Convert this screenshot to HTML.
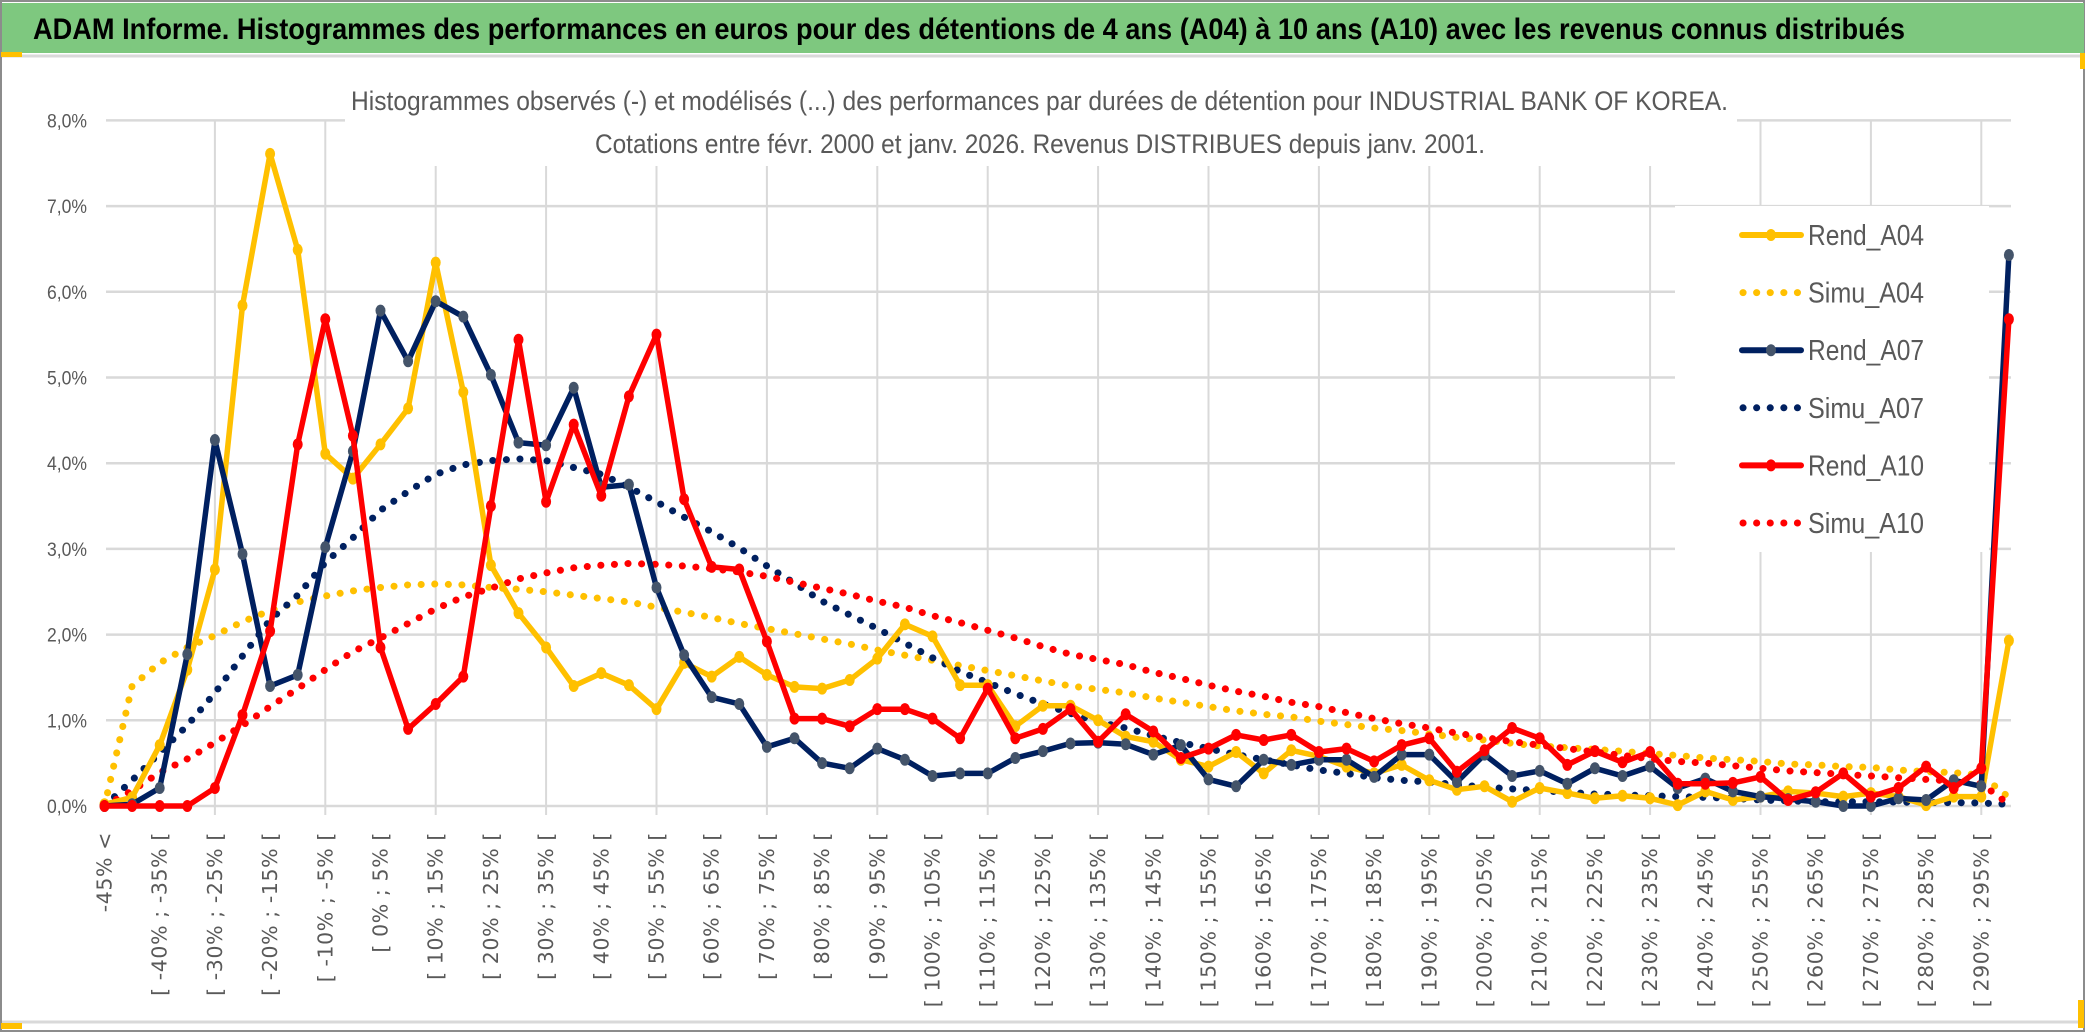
<!DOCTYPE html>
<html><head><meta charset="utf-8">
<style>
html,body{margin:0;padding:0;background:#fff;}
body{width:2086px;height:1033px;overflow:hidden;position:relative;}
svg{position:absolute;left:0;top:0;}
</style></head>
<body>
<svg id="chart" width="2086" height="1033" viewBox="0 0 2086 1033" xmlns="http://www.w3.org/2000/svg">
  <rect x="0" y="0" width="2086" height="1033" fill="#ffffff"/>
  <rect x="1" y="1" width="2083" height="1030" fill="none" stroke="#8c8c8c" stroke-width="2"/>
  <rect x="2" y="3" width="2082" height="50" fill="#7ec87f"/>
  <line x1="2" y1="56" x2="2084" y2="56" stroke="#d9d9d9" stroke-width="3"/>
  <rect x="1" y="52" width="21" height="5" fill="#ffc000"/>
  <rect x="2080" y="53" width="5" height="16" fill="#ffc000"/>
  <line x1="2" y1="1022" x2="2084" y2="1022" stroke="#d9d9d9" stroke-width="3"/>
  <rect x="1" y="1023" width="21" height="6" fill="#ffc000"/>
  <rect x="2078" y="1000" width="6" height="28" fill="#ffc000"/>
  <text x="33" y="39" textLength="1872" lengthAdjust="spacingAndGlyphs" font-family="Liberation Sans, sans-serif" font-weight="bold" font-size="30" fill="#000">ADAM Informe. Histogrammes des performances en euros pour des détentions de 4 ans (A04) à 10 ans (A10) avec les revenus connus distribués</text>
  <g id="grid"></g>
  <rect x="345" y="60" width="1392" height="106" fill="#ffffff"/>
  <text x="351" y="110" textLength="1377" lengthAdjust="spacingAndGlyphs" font-family="Liberation Sans, sans-serif" font-size="27" fill="#595959">Histogrammes observés (-) et modélisés (...) des performances par durées de détention pour INDUSTRIAL BANK OF KOREA.</text>
  <text x="595" y="153" textLength="890" lengthAdjust="spacingAndGlyphs" font-family="Liberation Sans, sans-serif" font-size="27" fill="#595959">Cotations entre févr. 2000 et janv. 2026. Revenus DISTRIBUES depuis janv. 2001.</text>
  <rect x="1675" y="206" width="314" height="346" fill="#ffffff"/>
  <g id="axes"></g>
  <g id="series"></g>
  <g id="legend"></g>
</svg>
<script>
const yTicks = [0,1,2,3,4,5,6,7,8];
const yTickLabels = ["0,0%","1,0%","2,0%","3,0%","4,0%","5,0%","6,0%","7,0%","8,0%"];
const categories = ["-45% <"];
for (let k = 1; k < 70; k++) { const lo = -50 + 5*k; categories.push("[ " + lo + "% ; " + (lo+5) + "% ["); }
const rendA04 = [0.02,0.10,0.71,1.59,2.76,5.84,7.61,6.49,4.11,3.82,4.22,4.64,6.34,4.83,2.81,2.25,1.85,1.40,1.55,
 1.41,1.13,1.67,1.51,1.74,1.53,1.39,1.37,1.47,1.72,2.12,1.98,1.41,1.41,0.93,1.17,1.17,1.00,
 0.81,0.75,0.54,0.46,0.63,0.38,0.65,0.58,0.46,0.38,0.48,0.30,0.19,0.23,0.05,0.21,0.15,0.09,0.12,
 0.09,0.01,0.17,0.07,0.11,0.17,0.15,0.11,0.15,0.11,0.01,0.11,0.11,1.93];
const simuA04 = [0.00,1.40,1.67,1.85,1.99,2.15,2.28,2.38,2.45,2.51,2.55,2.58,2.59,2.58,2.55,2.53,2.50,2.46,2.42,
 2.38,2.32,2.26,2.20,2.13,2.07,2.01,1.95,1.89,1.82,1.76,1.70,1.64,1.58,1.52,1.46,1.40,1.36,
 1.32,1.26,1.21,1.16,1.11,1.07,1.04,0.99,0.95,0.91,0.88,0.84,0.80,0.77,0.73,0.70,0.68,0.66,0.64,
 0.61,0.59,0.56,0.54,0.52,0.49,0.48,0.46,0.45,0.42,0.40,0.39,0.36,0.10];
const rendA07 = [0.00,0.02,0.21,1.77,4.27,2.94,1.40,1.53,3.02,4.14,5.78,5.19,5.89,5.71,5.03,4.24,4.21,4.88,3.72,
 3.75,2.55,1.76,1.27,1.19,0.69,0.79,0.50,0.44,0.67,0.54,0.35,0.38,0.38,0.56,0.64,0.73,0.74,
 0.72,0.60,0.71,0.31,0.23,0.54,0.48,0.54,0.54,0.34,0.60,0.60,0.28,0.60,0.35,0.41,0.26,0.44,0.35,
 0.46,0.21,0.32,0.17,0.11,0.08,0.05,0.00,0.00,0.09,0.07,0.30,0.23,6.43];
const simuA07 = [0.00,0.30,0.62,0.94,1.32,1.75,2.17,2.46,2.84,3.13,3.45,3.67,3.87,3.98,4.03,4.05,4.03,3.95,3.87,
 3.72,3.55,3.37,3.20,3.01,2.80,2.60,2.39,2.23,2.07,1.90,1.73,1.57,1.44,1.31,1.19,1.08,0.98,
 0.91,0.82,0.74,0.67,0.60,0.54,0.48,0.42,0.38,0.33,0.30,0.28,0.25,0.22,0.20,0.18,0.16,0.14,0.13,
 0.12,0.11,0.10,0.09,0.07,0.06,0.05,0.05,0.05,0.045,0.04,0.04,0.035,0.02];
const rendA10 = [0,0,0,0,0.21,1.06,2.04,4.22,5.68,4.32,1.85,0.90,1.19,1.51,3.50,5.44,3.55,4.45,3.62,
 4.78,5.50,3.58,2.79,2.76,1.92,1.02,1.02,0.93,1.13,1.13,1.02,0.79,1.37,0.79,0.90,1.13,0.75,
 1.07,0.87,0.56,0.67,0.83,0.77,0.83,0.63,0.67,0.52,0.71,0.79,0.40,0.65,0.91,0.79,0.48,0.64,0.51,
 0.63,0.26,0.26,0.27,0.34,0.07,0.16,0.38,0.11,0.21,0.46,0.21,0.44,5.68];
const simuA10 = [0.00,0.18,0.39,0.55,0.74,0.94,1.16,1.37,1.59,1.80,1.96,2.13,2.30,2.44,2.54,2.65,2.72,2.78,2.81,
 2.83,2.82,2.80,2.77,2.73,2.68,2.61,2.54,2.47,2.39,2.32,2.22,2.14,2.05,1.96,1.86,1.77,1.71,
 1.65,1.56,1.49,1.41,1.34,1.28,1.21,1.16,1.09,1.02,0.96,0.91,0.85,0.80,0.75,0.71,0.67,0.63,0.59,
 0.55,0.52,0.50,0.47,0.44,0.41,0.39,0.37,0.35,0.33,0.31,0.29,0.26,0.02];
const seriesNames = ["Rend_A04","Simu_A04","Rend_A07","Simu_A07","Rend_A10","Simu_A10"];

const NS = "http://www.w3.org/2000/svg";
const X0 = 104.5, DX = 27.6, Y0 = 806, DY = 85.7;
function xScale(i){ return X0 + DX*i; }
function yScale(v){ return Y0 - DY*v; }
function mk(tag, attrs, parent){ const e = document.createElementNS(NS, tag); for (const k in attrs) e.setAttribute(k, attrs[k]); parent.appendChild(e); return e; }

const grid = document.getElementById('grid');
yTicks.forEach((t) => {
  const l = mk('line', {x1:106, x2:2011, y1:yScale(t), y2:yScale(t), stroke:'#d9d9d9', 'stroke-width':2.5}, grid);
  
  
});
for (let k = 4; k < categories.length; k += 4) {
  const l = mk('line', {x1:xScale(k), x2:xScale(k), y1:yScale(8), y2:Y0+9, stroke:'#d9d9d9', 'stroke-width':2}, grid);
  
  
}

const axes = document.getElementById('axes');
yTicks.forEach((t, i) => {
  const tx = mk('text', {x:87, y:yScale(t)+7, 'text-anchor':'end', 'font-family':'Liberation Sans, sans-serif', 'font-size':19, fill:'#595959', textLength:40, lengthAdjust:'spacingAndGlyphs'}, axes);
  tx.textContent = yTickLabels[i];
  
  
});
for (let k = 0; k < categories.length; k += 2) {
  const x = xScale(k) + 7, y = 832;
  const tx = mk('text', {x:x, y:y, transform:'rotate(-90 '+x+' '+y+')', 'text-anchor':'end', 'font-family':'DejaVu Sans, sans-serif', 'font-size':20.5, fill:'#595959', 'letter-spacing':'0.6'}, axes);
  tx.textContent = categories[k];
  
  
}

const sg = document.getElementById('series');
function pathD(vals){ return vals.map((v,i)=> (i?'L':'M') + xScale(i).toFixed(1) + ' ' + yScale(v).toFixed(1)).join(' '); }
function dotted(vals, color, name){
  const p = mk('path', {d:pathD(vals), fill:'none', stroke:color, 'stroke-width':7, 'stroke-linecap':'round', 'stroke-dasharray':'0.1 13.5'}, sg);
  
  
}
function solid(vals, color, mcolor, name){
  const p = mk('path', {d:pathD(vals), fill:'none', stroke:color, 'stroke-width':5.5, 'stroke-linejoin':'round'}, sg);
  
  
  vals.forEach((v,i) => {
    const c = mk('ellipse', {cx:xScale(i), cy:yScale(v), rx:5, ry:6, fill:mcolor}, sg);
    
    
  });
}
dotted(simuA04, '#ffc000', 'simu-a04-line');
dotted(simuA07, '#002060', 'simu-a07-line');
dotted(simuA10, '#ff0000', 'simu-a10-line');
solid(rendA04, '#ffc000', '#ffc000', 'rend-a04-line');
solid(rendA07, '#002060', '#44546a', 'rend-a07-line');
solid(rendA10, '#ff0000', '#ff0000', 'rend-a10-line');

const lg = document.getElementById('legend');
const legendColors = ['#ffc000','#ffc000','#002060','#002060','#ff0000','#ff0000'];
const legendMarker = ['#ffc000',null,'#44546a',null,'#ff0000',null];
seriesNames.forEach((n, i) => {
  const y = 235 + 57.6*i;
  if (i % 2 === 0) {
    const l = mk('line', {x1:1742, x2:1801, y1:y, y2:y, stroke:legendColors[i], 'stroke-width':6, 'stroke-linecap':'round'}, lg);
    
    
    const m = mk('ellipse', {cx:1771, cy:y, rx:5, ry:6, fill:legendMarker[i]}, lg);
    
    
  } else {
    const l = mk('line', {x1:1743, x2:1800, y1:y, y2:y, stroke:legendColors[i], 'stroke-width':7, 'stroke-linecap':'round', 'stroke-dasharray':'0.1 13.5'}, lg);
    
    
  }
  const t = mk('text', {x:1808, y:y+10, 'font-family':'Liberation Sans, sans-serif', 'font-size':29, fill:'#595959', textLength:116, lengthAdjust:'spacingAndGlyphs'}, lg);
  t.textContent = n;
  
  
});
</script>
</body></html>
